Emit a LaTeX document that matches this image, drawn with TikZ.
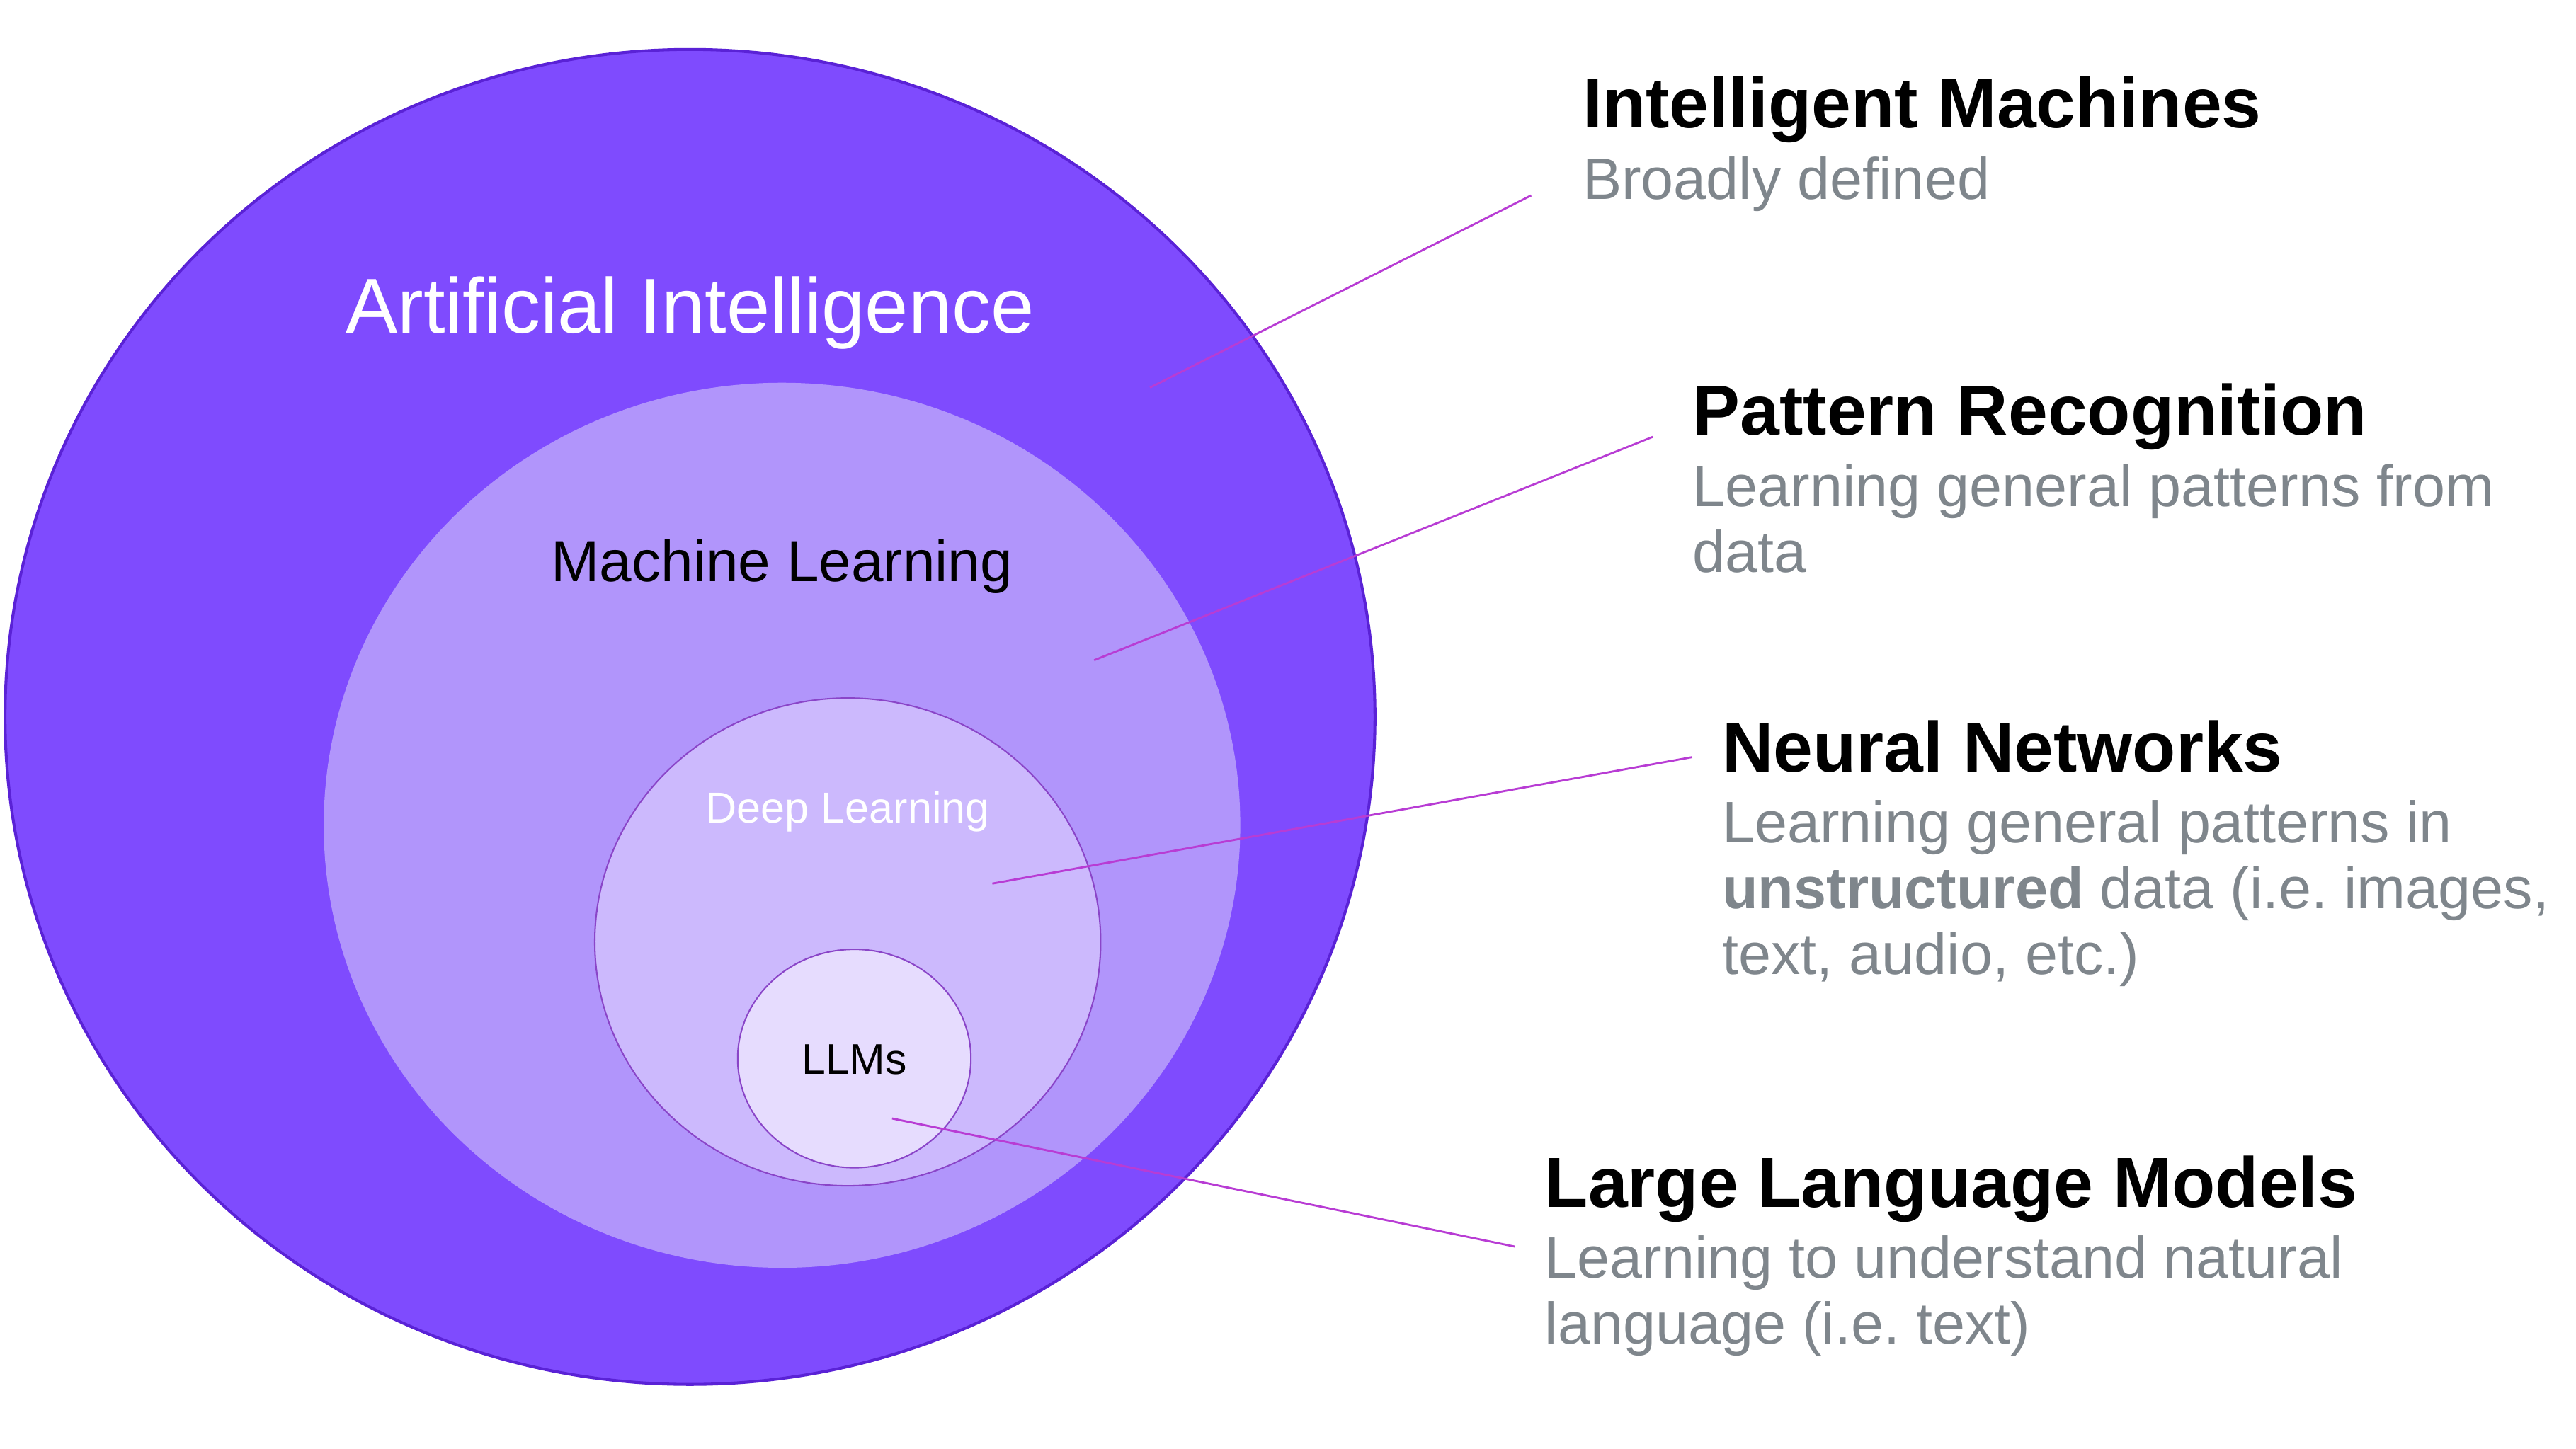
\documentclass[tikz,border=0pt]{standalone}
\usepackage{fontspec}
\setmainfont{Liberation Sans}
\usetikzlibrary{positioning}
\frenchspacing

\definecolor{aiviolet}{HTML}{7F4BFE}
\definecolor{aiedge}{HTML}{5A22D6}
\definecolor{mlviolet}{HTML}{B195FB}
\definecolor{dlviolet}{HTML}{CCB9FD}
\definecolor{llmviolet}{HTML}{E6DCFE}
\definecolor{ringedge}{HTML}{8A45C8}
\definecolor{leadcol}{HTML}{B83CD4}
\definecolor{descgray}{HTML}{7F868C}

\begin{document}
\begin{tikzpicture}[x=0.02cm, y=-0.02cm,
  leader/.style={leadcol, line width=0.7pt},
  heading/.style={anchor=base west, inner sep=0pt, text=black,
    font=\fontsize{24.6}{28}\selectfont\bfseries},
  desc/.style={align=left, inner sep=0pt, text=descgray,
    font=\fontsize{20.3}{22.8}\selectfont\frenchspacing},
  ringlabel/.style={anchor=base, inner sep=0pt}]

\useasboundingbox (0,0) rectangle (1568,882);
\fill [white] (0,0) rectangle (1568,882);

\filldraw [fill=aiviolet, draw=aiedge, line width=1pt] (420,436.5) ellipse [x radius=8.34cm, y radius=8.13cm];
\fill [mlviolet] (476,502.5) ellipse [x radius=5.58cm, y radius=5.39cm];
\filldraw [fill=dlviolet, draw=ringedge, line width=0.5pt] (516,573.5) ellipse [x radius=3.08cm, y radius=2.97cm];
\filldraw [fill=llmviolet, draw=ringedge, line width=0.5pt] (520,644.5) ellipse [x radius=1.42cm, y radius=1.33cm];

\node [ringlabel, text=white, font=\fontsize{27}{30}\selectfont] (aiLabel) at (420,203) {Artificial Intelligence};
\node [ringlabel, text=black, font=\fontsize{20.1}{24}\selectfont] (mlLabel) at (476,354) {Machine Learning};
\node [ringlabel, text=white, font=\fontsize{15}{18}\selectfont] (dlLabel) at (516,501) {Deep Learning};
\node [ringlabel, text=black, font=\fontsize{14.9}{18}\selectfont] (llmLabel) at (520,654) {LLMs};

\node [heading] (imTitle) at (963,78) {Intelligent Machines};
\node [desc, below right=0.34cm and 0pt of imTitle.base west] (imDesc) {Broadly defined};

\node [heading] (prTitle) at (1030,265) {Pattern Recognition};
\node [desc, below right=0.34cm and 0pt of prTitle.base west] (prDesc) {Learning general patterns from\\data};

\node [heading] (nnTitle) at (1048,470) {Neural Networks};
\node [desc, below right=0.34cm and 0pt of nnTitle.base west] (nnDesc) {Learning general patterns in\\\textbf{unstructured} data (i.e. images,\\text, audio, etc.)};

\node [heading] (lmTitle) at (940,735) {Large Language Models};
\node [desc, below right=0.34cm and 0pt of lmTitle.base west] (lmDesc) {Learning to understand natural\\language (i.e. text)};

\coordinate (imTip) at (932,119);
\coordinate (imEnd) at (700,236);
\coordinate (prTip) at (1006,266);
\coordinate (prEnd) at (666,402);
\coordinate (nnTip) at (1030,461);
\coordinate (nnEnd) at (604,538);
\coordinate (lmTip) at (922,759);
\coordinate (lmEnd) at (543,681);

\draw [leader] (imTip) -- (imEnd);
\draw [leader] (prTip) -- (prEnd);
\draw [leader] (nnTip) -- (nnEnd);
\draw [leader] (lmTip) -- (lmEnd);
\end{tikzpicture}
\end{document}
